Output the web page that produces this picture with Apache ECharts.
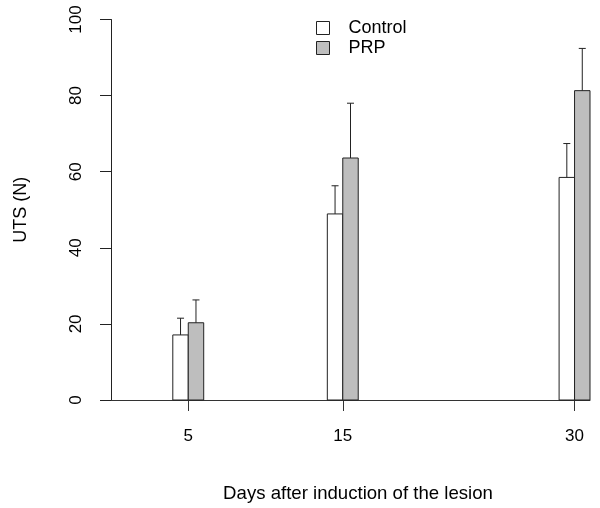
<!DOCTYPE html>
<html>
<head>
<meta charset="utf-8">
<script src="https://cdn.jsdelivr.net/npm/echarts@6/dist/echarts.min.js"></script>
<style>html,body{margin:0;padding:0;background:#fff}#c{width:600px;height:508px}</style>
</head>
<body>
<div id="c"></div>
<script>
const days = [5, 15, 30];
const controlMean = [17.1, 48.9, 58.5];
const controlSD = [4.4, 7.4, 8.9];
const prpMean = [20.3, 63.6, 81.3];
const prpSD = [6.0, 14.4, 11.1];
const yTicks = [0, 20, 40, 60, 80, 100];

const FONT = 'Liberation Sans, Arial, sans-serif';
const chart = echarts.init(document.getElementById('c'), null, {renderer: 'canvas'});

function makeRender(offset, fill) {
  return function (params, api) {
    const x = api.value(0), m = api.value(1), sd = api.value(2);
    const p0 = api.coord([x + offset, 0]);
    const p1 = api.coord([x + offset + 1, m]);
    const pc = api.coord([x + offset + 0.5, m]);
    const pe = api.coord([x + offset + 0.5, m + sd]);
    return {
      type: 'group',
      children: [
        {type: 'rect', shape: {x: p0[0], y: p1[1], width: p1[0] - p0[0], height: p0[1] - p1[1]},
         style: {fill: fill, stroke: '#222', lineWidth: 1}},
        {type: 'line', shape: {x1: pc[0], y1: pc[1], x2: pe[0], y2: pe[1]}, style: {stroke: '#222', lineWidth: 1}},
        {type: 'line', shape: {x1: pe[0] - 3.5, y1: pe[1], x2: pe[0] + 3.5, y2: pe[1]}, style: {stroke: '#222', lineWidth: 1}}
      ]
    };
  };
}

chart.setOption({
  animation: false,
  backgroundColor: '#fff',
  grid: {left: 111, right: 10, top: 19.5, bottom: 108, containLabel: false, outerBoundsMode: 'none'},
  legend: {
    orient: 'vertical', left: 316, top: 19, padding: 0, itemWidth: 13, itemHeight: 13, itemGap: 2,
    textStyle: {fontFamily: FONT, fontSize: 18, color: '#000', padding: [0, 0, 0, 14]},
    data: [
      {name: 'Control', icon: 'rect', itemStyle: {color: '#fff', borderColor: '#222', borderWidth: 1}},
      {name: 'PRP', icon: 'rect', itemStyle: {color: '#bebebe', borderColor: '#222', borderWidth: 1}}
    ]
  },
  xAxis: {
    type: 'value', min: 0, max: 31,
    name: 'Days after induction of the lesion', nameLocation: 'middle', nameGap: 84,
    nameTextStyle: {fontFamily: FONT, fontSize: 18.6, color: '#000', padding: [0, 0, 0, 15]},
    axisLine: {show: true, lineStyle: {color: '#333', width: 1}},
    axisTick: {show: true, length: 11, customValues: days, lineStyle: {color: '#333'}},
    axisLabel: {customValues: days, fontFamily: FONT, fontSize: 17, color: '#000', margin: 28},
    splitLine: {show: false}
  },
  yAxis: {
    type: 'value', min: 0, max: 100, interval: 20,
    name: 'UTS (N)', nameLocation: 'middle', nameGap: 81, nameRotate: 90,
    nameTextStyle: {fontFamily: FONT, fontSize: 18, color: '#000'},
    axisLine: {show: true, lineStyle: {color: '#222', width: 1}},
    axisTick: {show: true, length: 11, lineStyle: {color: '#222'}},
    axisLabel: {rotate: 90, fontFamily: FONT, fontSize: 17, color: '#000', margin: 26},
    splitLine: {show: false}
  },
  series: [
    {name: 'Control', type: 'custom', itemStyle: {color: '#fff', borderColor: '#222'},
     renderItem: makeRender(-1, '#ffffff'),
     data: days.map((d, i) => [d, controlMean[i], controlSD[i]])},
    {name: 'PRP', type: 'custom', itemStyle: {color: '#bebebe', borderColor: '#222'},
     renderItem: makeRender(0, '#bebebe'),
     data: days.map((d, i) => [d, prpMean[i], prpSD[i]])}
  ]
});
</script>
</body>
</html>
